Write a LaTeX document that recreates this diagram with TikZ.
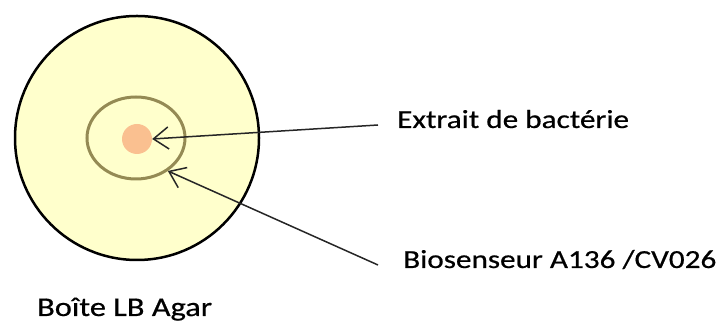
\documentclass[tikz,border=0pt]{standalone}
\usepackage{fontspec}
\setmainfont{Carlito}[FakeStretch=1.2, FakeBold=0.6]
\usetikzlibrary{shapes.geometric,arrows.meta}
\definecolor{agar}{HTML}{FFFFCC}
\definecolor{ringcol}{HTML}{948A54}
\definecolor{spotcol}{HTML}{FAC090}
\begin{document}
\begin{tikzpicture}[x=1pt, y=1pt,
    label/.style={anchor=base west, inner sep=0pt, font=\fontsize{26}{30}\selectfont},
    pointer/.style={-{Straight Barb[length=15pt, width=22pt]}, line width=1.5pt, black!85}]
  \useasboundingbox (0,0) rectangle (720,323);
  \node[circle, draw, line width=2.5pt, fill=agar, minimum size=244pt] (plate) at (137,185) {};
  \node[ellipse, draw=ringcol, line width=3pt, minimum width=98pt, minimum height=82pt] (ring) at (136,185) {};
  \node[circle, fill=spotcol, minimum size=30pt, inner sep=0pt] (spot) at (137,184) {};
  \node[label] (bact) at (397,195) {Extrait de bactérie};
  \node[label] (bios) at (403,55) {Biosenseur A136 /CV026};
  \node[label, font=\fontsize{27}{30}\selectfont] (boite) at (37,7) {Boîte LB Agar};
  \coordinate (t1) at (378,198);
  \coordinate (t2) at (378,58);
  \draw[pointer] (t1) -- (spot.east);
  \draw[pointer] (t2) -- (ring.-46);
\end{tikzpicture}
\end{document}
